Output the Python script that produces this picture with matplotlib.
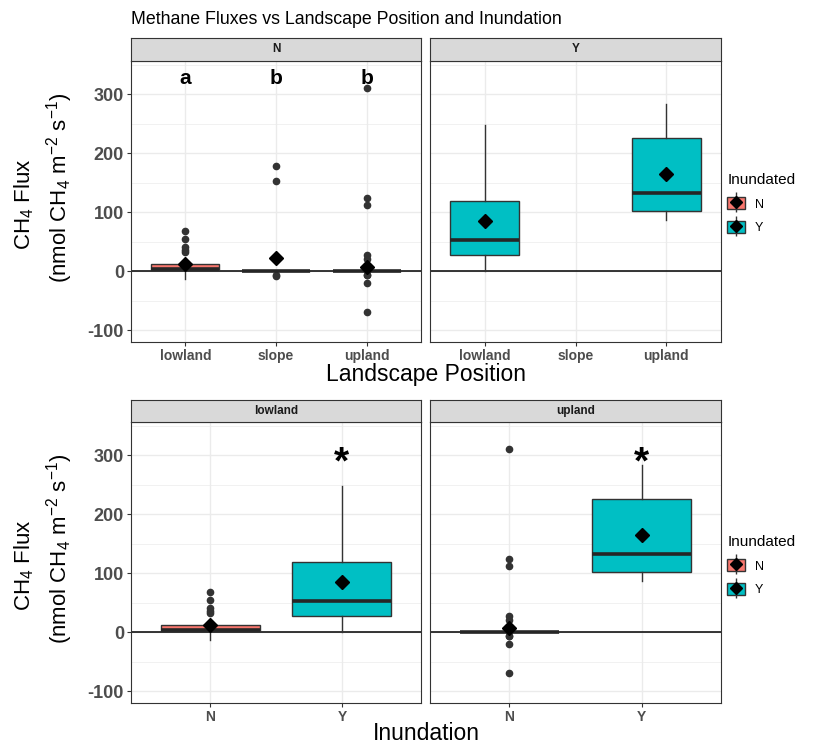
import matplotlib.pyplot as plt
import numpy as np
from matplotlib.patches import Patch
from matplotlib.lines import Line2D
from matplotlib.legend_handler import HandlerTuple

plt.rcParams['font.family'] = ['Liberation Sans', 'DejaVu Sans']
plt.rcParams['mathtext.default'] = 'regular'
plt.rcParams['axes.unicode_minus'] = False

# methane flux box stats (nmol CH4 m-2 s-1)
landscape = ['lowland', 'slope', 'upland']
inundation = ['N', 'Y']

# not inundated, by landscape position
n_whislo = [-13, 0, 0]
n_q1 = [1.5, 0, 0]
n_med = [3, 0, 0]
n_q3 = [12.5, 0, 0]
n_whishi = [14, 0, 0]
n_mean = [12.5, 22.5, 7]
n_fliers = [[67, 55, 41, 36, 33],
            [178, 153, -7, -8],
            [311, 124, 112, 28, 21, 8, -6, -7, -21, -70]]

# inundated (no slope plots were inundated)
y_sites = ['lowland', 'upland']
y_whislo = [0, 86]
y_q1 = [28, 102]
y_med = [53, 132]
y_q3 = [119, 226]
y_whishi = [248, 283]
y_mean = [84, 164]

top_letters = ['a', 'b', 'b']
bottom_marks = ['', '*']

fill = {'N': '#F8766D', 'Y': '#00BFC4'}
W, H = 817, 744


def box_stats(lo, q1, med, q3, hi, mean, fliers):
    return dict(whislo=lo, q1=q1, med=med, q3=q3, whishi=hi, mean=mean, fliers=fliers)


n_stats = {s: box_stats(n_whislo[i], n_q1[i], n_med[i], n_q3[i], n_whishi[i], n_mean[i], n_fliers[i])
           for i, s in enumerate(landscape)}
y_stats = {s: box_stats(y_whislo[i], y_q1[i], y_med[i], y_q3[i], y_whishi[i], y_mean[i], [])
           for i, s in enumerate(y_sites)}

fig = plt.figure(figsize=(W / 100, H / 100), dpi=100)


def px_axes(x0, y0, x1, y1):
    return fig.add_axes([x0 / W, 1 - y1 / H, (x1 - x0) / W, (y1 - y0) / H])


def strip(x0, y0, x1, y1, label):
    sa = px_axes(x0, y0, x1, y1)
    sa.set_facecolor('#D9D9D9')
    sa.set_xticks([])
    sa.set_yticks([])
    for sp in sa.spines.values():
        sp.set_color('#333333')
        sp.set_linewidth(0.8)
    sa.text(0.5, 0.5, label, ha='center', va='center', fontsize=8.5, fontweight='bold', color='#1A1A1A',
            transform=sa.transAxes)


def panel(ax, stats, positions, colors, labels, show_y):
    if stats:
        bp = ax.bxp(stats, positions=positions, widths=0.75, patch_artist=True, showcaps=False,
                    showmeans=True, manage_ticks=False,
                    boxprops=dict(edgecolor='#333333', lw=1.0),
                    whiskerprops=dict(color='#333333', lw=1.0),
                    medianprops=dict(color='#262626', lw=2.6, solid_capstyle='butt'),
                    flierprops=dict(marker='o', markerfacecolor='#333333', markeredgecolor='#333333',
                                    markersize=4.5),
                    meanprops=dict(marker='D', markerfacecolor='black', markeredgecolor='black',
                                   markersize=7.5, zorder=4))
        for b, c in zip(bp['boxes'], colors):
            b.set_facecolor(c)
    ax.set_xlim(0.4, len(labels) + 0.6)
    ax.set_ylim(-120.3, 356)
    ax.set_yticks([-100, 0, 100, 200, 300])
    ax.set_yticks(np.arange(-50, 400, 100), minor=True)
    ax.set_xticks(range(1, len(labels) + 1))
    ax.set_xticklabels(labels)
    ax.grid(which='major', color='#EBEBEB', lw=1.0, zorder=0)
    ax.grid(which='minor', axis='y', color='#EBEBEB', lw=0.5, zorder=0)
    ax.set_axisbelow(True)
    ax.axhline(0, color='black', lw=1.1, zorder=1.5)
    for sp in ax.spines.values():
        sp.set_color('#333333')
        sp.set_linewidth(0.8)
    ax.tick_params(axis='x', length=3, width=0.8, color='#333333', labelsize=10, labelcolor='#4D4D4D', pad=2)
    ax.tick_params(axis='y', which='major', length=3, width=0.8, color='#333333', labelsize=13,
                   labelcolor='#4D4D4D', pad=2)
    ax.tick_params(axis='y', which='minor', length=0)
    for t in ax.get_xticklabels() + ax.get_yticklabels():
        t.set_fontweight('bold')
    if not show_y:
        ax.tick_params(axis='y', which='major', length=0, labelleft=False)


# top row: facets by inundation, x = landscape position
ax1 = px_axes(131, 61, 421, 342)
panel(ax1, [n_stats[s] for s in landscape], [1, 2, 3], [fill['N']] * 3, landscape, True)
for i, lab in enumerate(top_letters):
    ax1.text(i + 1, 317, lab, ha='center', va='baseline', fontsize=15, fontweight='bold')
strip(131, 38, 421, 61, 'N')

ax2 = px_axes(430, 61, 721, 342)
panel(ax2, [y_stats[s] for s in y_sites], [landscape.index(s) + 1 for s in y_sites],
      [fill['Y']] * 2, landscape, False)
strip(430, 38, 721, 61, 'Y')

# bottom row: facets by landscape, x = inundation
for k, (site, x0, x1) in enumerate([('lowland', 131, 421), ('upland', 430, 721)]):
    ax = px_axes(x0, 422, x1, 703)
    panel(ax, [n_stats[site], y_stats[site]], [1, 2], [fill['N'], fill['Y']], inundation, k == 0)
    for i, m in enumerate(bottom_marks):
        if m:
            ax.text(i + 1, 268, m, ha='center', va='baseline', fontsize=28, fontweight='bold')
    strip(x0, 400, x1, 422, site)

# titles and labels
fig.text(131 / W, 1 - 20 / H, 'Methane Fluxes vs Landscape Position and Inundation', fontsize=12.8,
         va='center', ha='left')
fig.text(426 / W, 1 - 374 / H, 'Landscape Position', ha='center', va='center', fontsize=16.5)
fig.text(426 / W, 1 - 734 / H, 'Inundation', ha='center', va='center', fontsize=16.5)
for dy in [0, 361]:
    fig.text(24 / W, 1 - (204 + dy) / H, 'CH$_4$ Flux', rotation=90, ha='center', va='center', fontsize=16)
    fig.text(60 / W, 1 - (188 + dy) / H, '(nmol CH$_4$ m$^{-2}$ s$^{-1}$)', rotation=90, ha='center',
             va='center', fontsize=16)


def key(c):
    return (Patch(facecolor=c, edgecolor='#333333', lw=1.0),
            Line2D([], [], ls='none', marker='|', color='#333333', markersize=14, markeredgewidth=1.0),
            Line2D([], [], ls='none', marker='D', color='black', markersize=6))


for ty in [162, 524]:
    fig.legend(handles=[key(fill['N']), key(fill['Y'])], labels=inundation, title='Inundated',
               loc='upper left', bbox_to_anchor=(716 / W, 1 - ty / H), frameon=False,
               handler_map={tuple: HandlerTuple(ndivide=1, pad=0)}, fontsize=9, title_fontsize=11,
               alignment='left', handlelength=1.4, handleheight=1.1, labelspacing=0.8)

fig.savefig('out.png', dpi=100)
